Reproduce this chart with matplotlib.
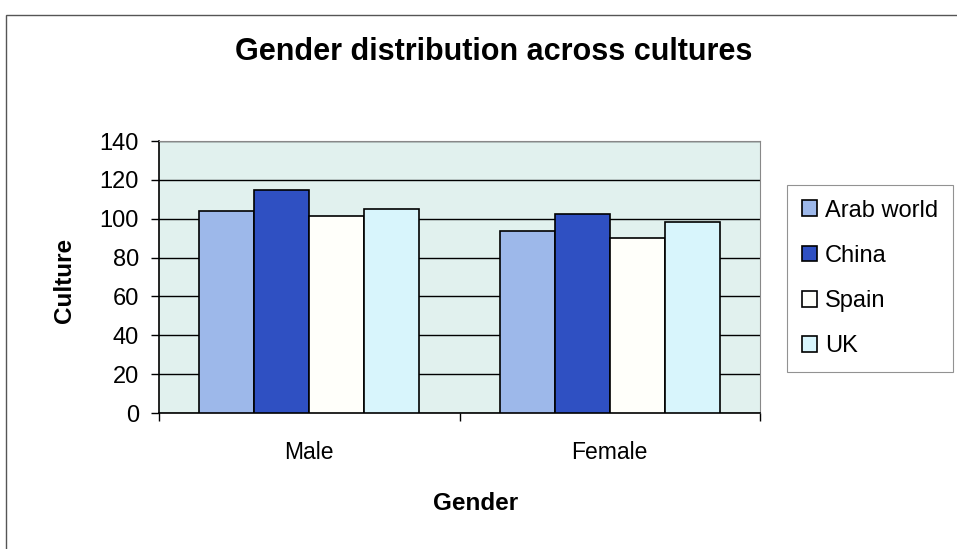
import matplotlib
matplotlib.use("Agg")
import matplotlib.pyplot as plt
from matplotlib.patches import Rectangle
import numpy as np

plt.rcParams['font.family'] = ['Liberation Sans', 'DejaVu Sans']

genders = ["Male", "Female"]
cultures = ["Arab world", "China", "Spain", "UK"]
arab_world = [104, 93.5]
china = [115, 102.5]
spain = [101.5, 90]
uk = [105, 98.5]
series = [arab_world, china, spain, uk]
colors = ["#9db8ea", "#2f50c2", "#fffffa", "#d8f5fc"]
y_ticks = [0, 20, 40, 60, 80, 100, 120, 140]

W, H = 957, 549
fig = plt.figure(figsize=(W / 100, H / 100), dpi=100)
fig.patch.set_facecolor("white")

# chart frame
fig.add_artist(Rectangle((6 / W, -0.01), 1.0, (H - 15) / H + 0.01,
                         transform=fig.transFigure, fill=False,
                         edgecolor="#555555", linewidth=1.0))

left, right, top, bottom = 159, 760, 141, 413
ax = fig.add_axes([left / W, 1 - bottom / H, (right - left) / W, (bottom - top) / H])
ax.set_facecolor("#e1f1ee")

x = np.arange(len(genders))
bw = 0.183
for i, (vals, c) in enumerate(zip(series, colors)):
    ax.bar(x + (i - 1.5) * bw, vals, width=bw, color=c, edgecolor="black",
           linewidth=1.2, label=cultures[i], zorder=3)

ax.set_xlim(-0.5, 1.5)
ax.set_ylim(0, 140)
ax.set_yticks(y_ticks)
ax.set_yticklabels([str(t) for t in y_ticks], fontsize=17)
ax.yaxis.grid(True, color="black", linewidth=1.0, zorder=1)
ax.set_axisbelow(True)

ax.set_xticks(x)
ax.set_xticklabels(genders, fontsize=16.5)
ax.set_xticks([-0.5, 0.5, 1.5], minor=True)
ax.tick_params(axis="x", which="major", length=0, pad=20.5)
ax.tick_params(axis="x", which="minor", length=6, width=1)
ax.tick_params(axis="y", length=6, width=1, pad=8.5, direction="out")

for s in ["top", "right"]:
    ax.spines[s].set_color("#888888")
    ax.spines[s].set_linewidth(0.8)
for s in ["left", "bottom"]:
    ax.spines[s].set_color("black")
    ax.spines[s].set_linewidth(1.2)

fig.text(494 / W, 1 - 52 / H, "Gender distribution across cultures",
         ha="center", va="center", fontsize=22, fontweight="bold")
fig.text(476 / W, 1 - 503 / H, "Gender", ha="center", va="center",
         fontsize=17.5, fontweight="bold")
fig.text(64 / W, 1 - 280 / H, "Culture", ha="center", va="center",
         fontsize=17.5, fontweight="bold", rotation=90)

leg = ax.legend(loc="upper left", bbox_to_anchor=(787 / W, 1 - 185 / H),
                bbox_transform=fig.transFigure, fontsize=17, frameon=True,
                fancybox=False, edgecolor="#777777", handlelength=0.65,
                handleheight=0.65, handletextpad=0.35, labelspacing=0.98,
                borderpad=0.62, borderaxespad=0)
leg.get_frame().set_linewidth(0.8)

fig.savefig("out.png", dpi=100)
